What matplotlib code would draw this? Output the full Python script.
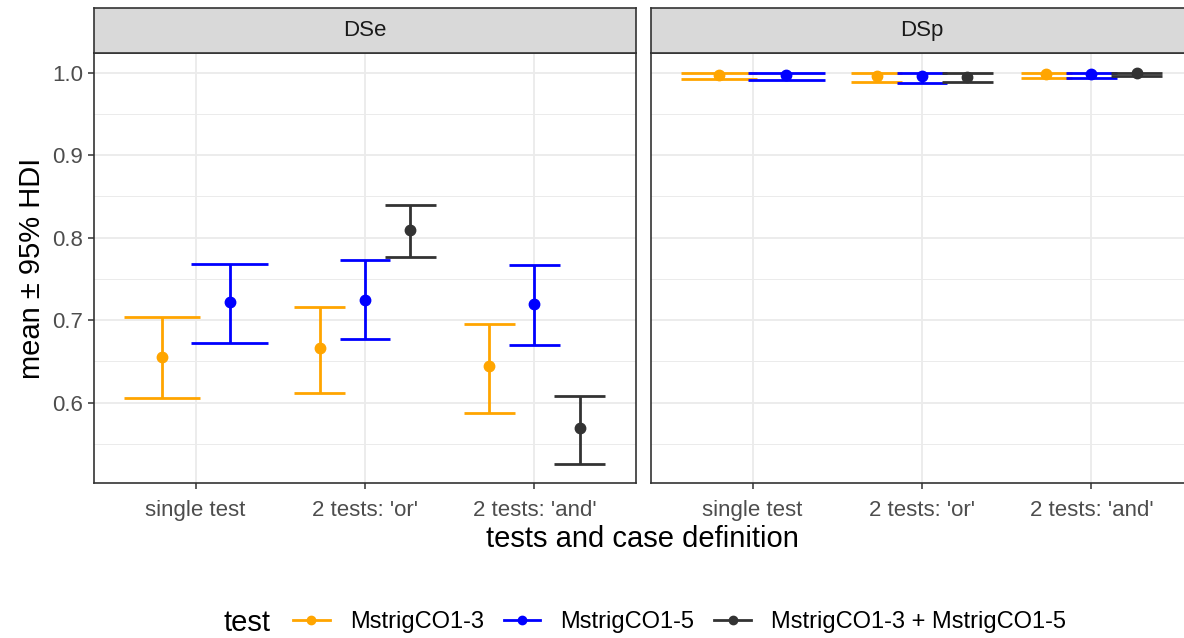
import numpy as np
import matplotlib.pyplot as plt
from matplotlib.lines import Line2D
from matplotlib.ticker import MultipleLocator

plt.rcParams['font.family'] = ['Liberation Sans', 'DejaVu Sans']

# ---- data -------------------------------------------------------------
CATEGORIES = ["single test", "2 tests: 'or'", "2 tests: 'and'"]
TESTS = ["MstrigCO1-3", "MstrigCO1-5", "MstrigCO1-3 + MstrigCO1-5"]
COLORS = ["#FFA500", "#0000FF", "#333333"]
nan = np.nan

# rows = tests, columns = categories
DSE_MEAN = [[0.655, 0.666, 0.645], [0.722, 0.725, 0.720], [nan, 0.809, 0.569]]
DSE_LO = [[0.606, 0.612, 0.587], [0.672, 0.677, 0.670], [nan, 0.777, 0.526]]
DSE_HI = [[0.704, 0.716, 0.695], [0.768, 0.773, 0.767], [nan, 0.840, 0.608]]

DSP_MEAN = [[0.997, 0.996, 0.998], [0.997, 0.9955, 0.998], [nan, 0.995, 0.999]]
DSP_LO = [[0.992, 0.988, 0.994], [0.991, 0.987, 0.994], [nan, 0.988, 0.996]]
DSP_HI = [[0.999, 0.999, 1.000], [1.000, 0.999, 1.000], [nan, 1.000, 0.9995]]

FACETS = [("DSe", DSE_MEAN, DSE_LO, DSE_HI), ("DSp", DSP_MEAN, DSP_LO, DSP_HI)]

# ---- layout (pixels) ---------------------------------------------------
W, H = 1184, 638
fig = plt.figure(figsize=(W / 100, H / 100), dpi=100)

PANEL_X = [(94, 636), (651, 1193)]
PANEL_TOP, PANEL_BOT, STRIP_TOP = 53, 483, 8
YLIM = (0.5027, 1.0237)
DARK = "#333333"
TICK_FS = 16
TITLE_FS = 21
LEG_FS = 17


def fx(px):
    return px / W


def fy(py):
    return 1 - py / H


axes = []
for k, (x0, x1) in enumerate(PANEL_X):
    ax = fig.add_axes([fx(x0), fy(PANEL_BOT), fx(x1 - x0), fy(PANEL_TOP) - fy(PANEL_BOT)])
    ax.set_xlim(0.4, 3.6)
    ax.set_ylim(*YLIM)
    ax.yaxis.set_major_locator(MultipleLocator(0.1))
    ax.yaxis.set_minor_locator(MultipleLocator(0.05))
    ax.set_xticks([1, 2, 3])
    ax.set_xticklabels(CATEGORIES)
    ax.grid(True, which="major", color="#EBEBEB", lw=1.3, zorder=0)
    ax.grid(True, which="minor", axis="y", color="#EBEBEB", lw=0.7, zorder=0)
    ax.set_axisbelow(True)
    for s in ax.spines.values():
        s.set_color(DARK)
        s.set_linewidth(1.2)
    ax.tick_params(axis="both", which="major", length=4, width=1.1, color=DARK,
                   labelsize=TICK_FS, labelcolor="#4D4D4D", pad=4)
    ax.tick_params(axis="x", which="major", pad=8)
    ax.tick_params(axis="both", which="minor", length=0)
    if k == 1:
        ax.tick_params(axis="y", which="major", length=0, labelleft=False)
    axes.append(ax)

    # strip
    sax = fig.add_axes([fx(x0), fy(PANEL_TOP), fx(x1 - x0), fy(STRIP_TOP) - fy(PANEL_TOP)])
    sax.set_facecolor("#D9D9D9")
    sax.set_xticks([])
    sax.set_yticks([])
    for s in sax.spines.values():
        s.set_color(DARK)
        s.set_linewidth(1.2)
    sax.text(0.5, 0.5, FACETS[k][0], ha="center", va="center",
             fontsize=TICK_FS, color="#1A1A1A", transform=sax.transAxes)

# ---- marks ---------------------------------------------------------------
for ax, (name, mean, lo, hi) in zip(axes, FACETS):
    mean = np.array(mean)
    lo = np.array(lo)
    hi = np.array(hi)
    for c in range(len(CATEGORIES)):
        present = [t for t in range(len(TESTS)) if not np.isnan(mean[t][c])]
        n = len(present)
        for j, t in enumerate(present):
            x = c + 1 + (j - (n - 1) / 2) * 0.8 / n
            half = 0.45 / n
            col = COLORS[t]
            ax.plot([x, x], [lo[t][c], hi[t][c]], color=col, lw=2, zorder=3,
                    solid_capstyle="butt")
            ax.plot([x - half, x + half], [lo[t][c]] * 2, color=col, lw=2, zorder=3,
                    solid_capstyle="butt")
            ax.plot([x - half, x + half], [hi[t][c]] * 2, color=col, lw=2, zorder=3,
                    solid_capstyle="butt")
            ax.plot(x, mean[t][c], "o", color=col, ms=7.5, zorder=4)

# ---- titles & legend ----------------------------------------------------
fig.text(fx(642), fy(539), "tests and case definition", ha="center", va="center",
         fontsize=TITLE_FS, color="black")
fig.text(fx(32), fy(268), "mean \u00b1 95% HDI", ha="center", va="center",
         rotation=90, fontsize=TITLE_FS, color="black")

handles = [Line2D([0], [0], color=c, lw=2, marker="o", ms=6) for c in COLORS]
fig.text(fx(224), fy(623), "test", ha="left", va="center", fontsize=TITLE_FS)
fig.legend(handles, TESTS, loc="center left", bbox_to_anchor=(fx(293), fy(622)),
           ncol=3, frameon=False, fontsize=LEG_FS, handlelength=1.55,
           handletextpad=0.85, columnspacing=0.85, borderpad=0, borderaxespad=0)

fig.savefig("out.png", dpi=100)
